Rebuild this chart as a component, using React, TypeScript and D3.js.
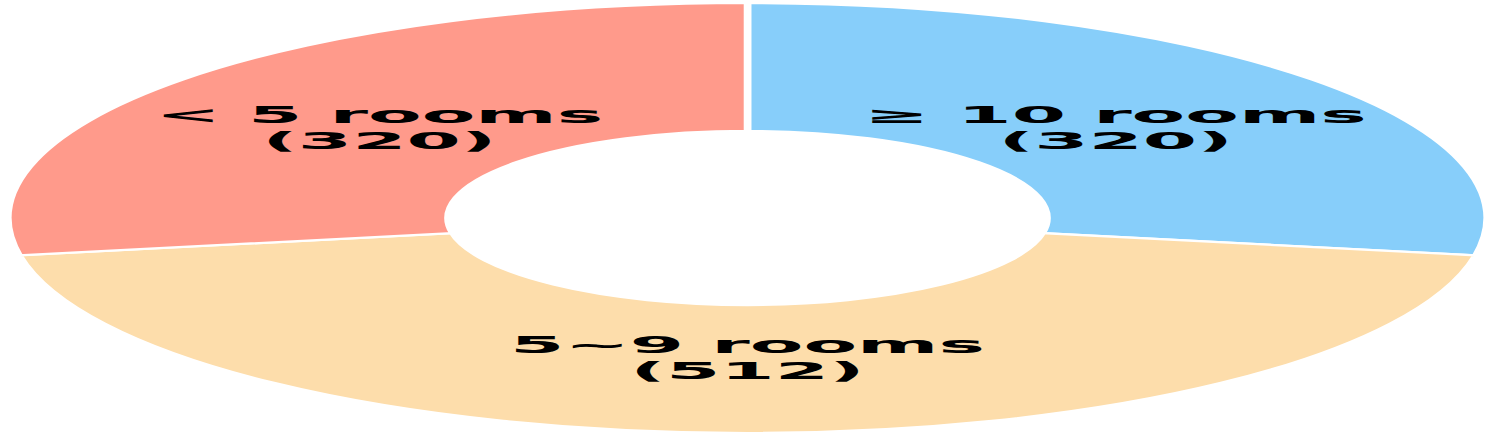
import React from "react";
import * as d3 from "d3";

// Room count buckets and their counts
const categories = ["≥ 10 rooms", "5～9 rooms", "< 5 rooms"];
const displayNames = ["≥ 10 rooms", "5~9 rooms", "<  5 rooms"];
const values = [320, 512, 320];
const colors = ["#87CEFA", "#FDDDAB", "#FF9A8B"];

const App: React.FC = () => {
  const width = 1496;
  const height = 437;
  const cx = 747.5;
  const cy = 218;
  const R = 215;
  const rx = 739.5;
  const sx = rx / R;
  const inner = 0.405 * R;
  const labelR = 0.65 * R;

  const pie = d3
    .pie<number>()
    .sort(null)
    .value((d) => d);
  const arcs = pie(values);

  const arc = d3.arc<d3.PieArcDatum<number>>().innerRadius(inner).outerRadius(R);
  const labelArc = d3
    .arc<d3.PieArcDatum<number>>()
    .innerRadius(labelR)
    .outerRadius(labelR);

  return (
    <svg
      width={width}
      height={height}
      style={{ position: "absolute", left: 0, top: 0 }}
    >
      <g transform={`translate(${cx}, ${cy}) scale(${sx}, 1)`}>
        {arcs.map((a, i) => (
          <path
            key={categories[i]}
            d={arc(a) || ""}
            fill={colors[i]}
            stroke="#fff"
            strokeWidth={2.2}
          />
        ))}
        {arcs.map((a, i) => {
          const [x, y] = labelArc.centroid(a);
          return (
            <text
              key={"l" + i}
              x={x}
              y={y}
              textAnchor="middle"
              style={{
                fontFamily: "DejaVu Sans",
                fontWeight: "bold",
                fontSize: "22.7px",
                fill: "#000",
              }}
            >
              <tspan x={x} dy={-5}>
                {displayNames[i]}
              </tspan>
              <tspan x={x} dy={26}>
                ({values[i]})
              </tspan>
            </text>
          );
        })}
      </g>
    </svg>
  );
};

export default App;
